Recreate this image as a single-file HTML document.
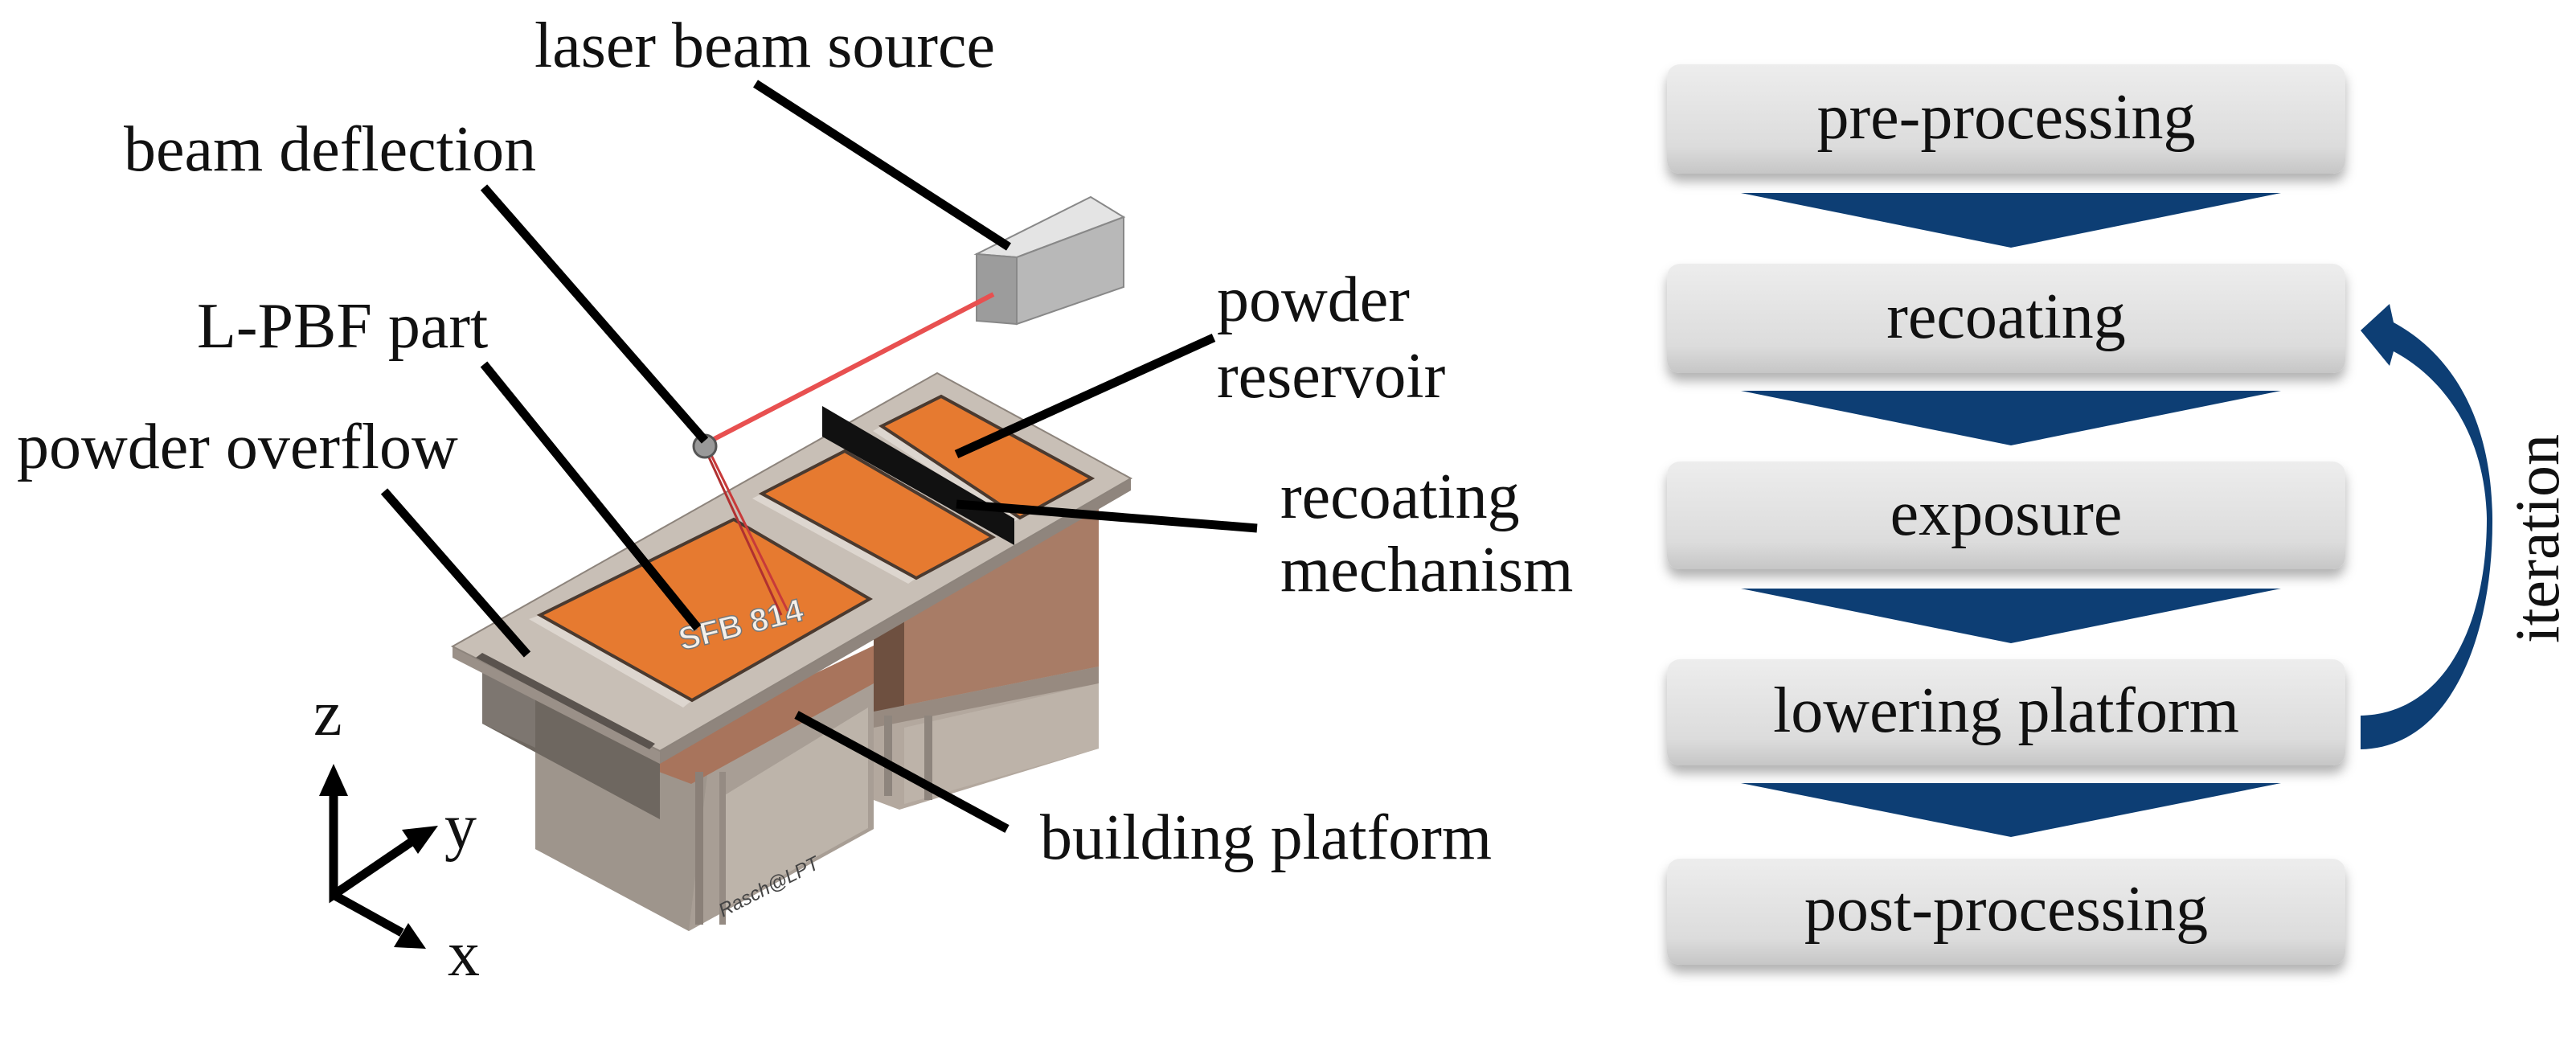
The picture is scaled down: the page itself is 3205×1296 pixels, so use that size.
<!DOCTYPE html>
<html><head><meta charset="utf-8"><style>
html,body{margin:0;padding:0;background:#fff}
svg{display:block}
</style></head><body>
<svg width="3205" height="1296" viewBox="0 0 3205 1296" xmlns="http://www.w3.org/2000/svg" font-family="'Liberation Serif', serif">
<defs>
<linearGradient id="bx" x1="0" y1="0" x2="0" y2="1">
<stop offset="0" stop-color="#ededed"/><stop offset="0.75" stop-color="#dcdcdc"/><stop offset="1" stop-color="#c6c6c6"/>
</linearGradient>
<filter id="sh" x="-5%" y="-20%" width="110%" height="150%"><feDropShadow dx="0" dy="10" stdDeviation="7" flood-color="#000" flood-opacity="0.3"/></filter>
</defs>

<!-- ===== Right: process flow ===== -->
<g filter="url(#sh)">
<rect x="2074" y="80" width="844" height="136" rx="16" fill="url(#bx)"/>
<rect x="2074" y="328" width="844" height="136" rx="16" fill="url(#bx)"/>
<rect x="2074" y="574" width="844" height="134" rx="16" fill="url(#bx)"/>
<rect x="2074" y="820" width="844" height="132" rx="16" fill="url(#bx)"/>
<rect x="2074" y="1068" width="844" height="132" rx="16" fill="url(#bx)"/>
</g>
<g font-size="80" text-anchor="middle" font-family="'Liberation Serif', serif" fill="#111">
<text x="2496" y="172">pre-processing</text>
<text x="2496" y="420">recoating</text>
<text x="2496" y="665">exposure</text>
<text x="2496" y="910">lowering platform</text>
<text x="2496" y="1157">post-processing</text>
</g>
<g fill="#0d3e74">
<polygon points="2166,240 2838,240 2502,308"/>
<polygon points="2166,486 2838,486 2502,554"/>
<polygon points="2166,732 2838,732 2502,800"/>
<polygon points="2166,974 2838,974 2502,1041"/>
<path d="M2937,932 C3050,930 3102,790 3101,645 C3100,520 3050,440 2978,401 L2973,378 L2937,411 L2973,455 L2978,437 C3040,470 3092,540 3094,645 C3094,780 3040,888 2937,890 Z"/>
</g>
<text x="3183" y="670" font-size="78" text-anchor="middle" fill="#111" font-family="'Liberation Serif', serif" transform="rotate(-90 3183 670)">iteration</text>

<!-- ===== Left: machine ===== -->
<!-- reservoir chamber -->
<polygon points="1087,757 1367,600 1367,931 1119,1007 1087,995" fill="#b3a89e"/>
<polygon points="1087,757 1367,600 1367,829 1087,885" fill="#a87c66"/>
<polygon points="1087,757 1125,760 1125,885 1087,885" fill="#6e5040"/>
<polygon points="1087,885 1367,829 1367,850 1087,905" fill="#978a80"/>
<polygon points="1125,905 1367,850 1367,931 1125,1000" fill="#bdb3a9"/>
<rect x="1100" y="890" width="10" height="100" fill="#8e857d"/>
<rect x="1150" y="890" width="10" height="105" fill="#8e857d"/>
<!-- build chamber -->
<polygon points="666,900 884,930 1087,803 1087,1031 857,1158 666,1056" fill="#b0a69d"/>
<polygon points="884,930 1087,803 1087,1031 857,1158" fill="#a89e95"/>
<polygon points="900,990 1080,880 1080,1030 900,1130" fill="#bdb4aa"/>
<polygon points="666,900 884,930 857,1158 666,1056" fill="#9e958c"/>
<polygon points="820,930 1087,803 1087,850 860,975 820,960" fill="#a8745c"/>
<rect x="865" y="960" width="10" height="190" fill="#8a8078"/>
<rect x="895" y="960" width="8" height="190" fill="#958b83"/>
<!-- overflow box -->
<polygon points="600,833 821,940 821,1019 600,900" fill="#6e6760"/>
<polygon points="600,833 666,868 666,930 600,900" fill="#7d7670"/>
<!-- top plate -->
<polygon points="563,804 821,934 821,950 563,818" fill="#9a9088"/>
<polygon points="821,934 1407,595 1407,610 821,950" fill="#8f857d"/>
<polygon points="563,804 1166,464 1407,595 821,934" fill="#c8bfb6" stroke="#8d847c" stroke-width="2"/>
<!-- overflow slot -->
<polygon points="600,812 815,925 808,932 592,818" fill="#5a534e"/>
<!-- pit walls -->
<polygon points="658,770 672,765 861,871 850,880" fill="#ddd6cf"/>
<polygon points="936,620 948,614 1140,719 1130,726" fill="#ddd6cf"/>
<polygon points="1086,536 1097,530 1269,644 1260,650" fill="#ddd6cf"/>
<!-- orange fields -->
<polygon points="672,765 913,646 1082,745 861,871" fill="#e67a30" stroke="#4a3a30" stroke-width="4"/>
<polygon points="948,614 1051,561 1235,668 1140,719" fill="#e67a30" stroke="#4a3a30" stroke-width="4"/>
<polygon points="1097,530 1171,493 1358,595 1269,644" fill="#e67a30" stroke="#4a3a30" stroke-width="4"/>
<text x="925" y="790" font-family="'Liberation Sans', sans-serif" font-size="40" font-weight="bold" fill="#f4f0ea" stroke="#777" stroke-width="1.5" text-anchor="middle" transform="rotate(-14 925 790)">SFB 814</text>
<text x="960" y="1110" font-family="'Liberation Sans', sans-serif" font-size="24" font-style="italic" text-anchor="middle" fill="#444" transform="rotate(-27 960 1110)">Rasch@LPT</text>
<!-- recoater blade -->
<polygon points="1023,505 1023,543 1262,678 1262,645" fill="#111"/>
<!-- laser source -->
<polygon points="1215,316 1357,245 1398,270 1265,320" fill="#e4e4e4" stroke="#888" stroke-width="2"/>
<polygon points="1265,320 1398,270 1398,357 1265,403" fill="#b8b8b8" stroke="#888" stroke-width="2"/>
<polygon points="1215,316 1265,320 1265,403 1215,399" fill="#9c9c9c" stroke="#888" stroke-width="2"/>
<!-- beams -->
<line x1="1236" y1="366" x2="875" y2="553" stroke="#e85050" stroke-width="6"/>
<line x1="882" y1="560" x2="980" y2="760" stroke="#c83a3a" stroke-width="3"/>
<line x1="878" y1="560" x2="972" y2="765" stroke="#b03030" stroke-width="3"/>
<circle cx="877" cy="555" r="14" fill="#999" stroke="#555" stroke-width="3"/>

<!-- leaders -->
<g stroke="#000" stroke-width="11" stroke-linecap="butt">
<line x1="940" y1="104" x2="1255" y2="307"/>
<line x1="602" y1="233" x2="877" y2="548"/>
<line x1="602" y1="453" x2="868" y2="781"/>
<line x1="478" y1="611" x2="656" y2="814"/>
<line x1="1510" y1="420" x2="1190" y2="565"/>
<line x1="1564" y1="657" x2="1190" y2="627"/>
<line x1="1253" y1="1031" x2="991" y2="889"/>
</g>

<!-- labels -->
<g font-size="80" font-family="'Liberation Serif', serif" fill="#111">
<text x="665" y="83">laser beam source</text>
<text x="154" y="212">beam deflection</text>
<text x="245" y="432">L-PBF part</text>
<text x="21" y="582">powder overflow</text>
<text x="1514" y="399">powder</text>
<text x="1514" y="494">reservoir</text>
<text x="1593" y="644">recoating</text>
<text x="1593" y="735">mechanism</text>
<text x="1294" y="1068">building platform</text>
<text x="390" y="914">z</text>
<text x="553" y="1055">y</text>
<text x="557" y="1213">x</text>
</g>
<!-- axes -->
<g stroke="#000" stroke-width="11" fill="none">
<polyline points="415,985 415,1113 515,1045"/>
<line x1="415" y1="1113" x2="500" y2="1160"/>
</g>
<g fill="#000">
<polygon points="415,950 397,990 433,990"/>
<polygon points="545,1027 500,1032 520,1062"/>
<polygon points="530,1180 490,1178 508,1148"/>
</g>
</svg>
</body></html>
